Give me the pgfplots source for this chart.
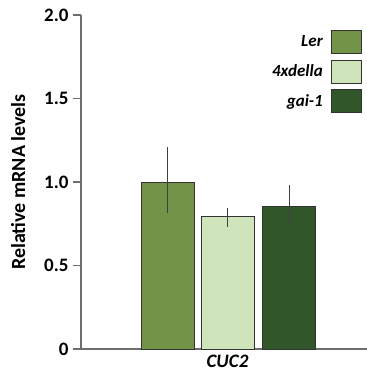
\documentclass[border=0pt]{standalone}
\usepackage{pgfplots}
\pgfplotsset{compat=1.18}
\usepackage{fontspec}
\setmainfont{Carlito}
\definecolor{lerGreen}{RGB}{115,148,72}
\definecolor{dellaGreen}{RGB}{208,228,188}
\definecolor{gaiGreen}{RGB}{48,86,42}
\definecolor{axisGray}{RGB}{110,110,110}
\newcommand{\lbl}[1]{\fontsize{#1}{1.2\dimexpr#1\relax}\selectfont\bfseries}
\begin{document}
\begin{tikzpicture}
\useasboundingbox (-81bp,-22bp) rectangle (286bp,349bp);
\begin{axis}[
  at={(0,0)}, anchor=south west,
  scale only axis, width=286bp, height=334bp,
  xmin=0, xmax=286, ymin=0, ymax=2,
  axis x line=bottom, axis y line=left,
  axis line style={-, draw=axisGray, line width=1.4bp},
  ytick={0,0.5,1,1.5,2},
  yticklabels={0,0.5,1.0,1.5,2.0},
  ytick style={draw=axisGray, line width=1.4bp},
  tick align=outside, major tick length=8bp,
  yticklabel style={font=\lbl{19bp}, xshift=-1bp},
  xtick={146.5}, xticklabels={\textit{CUC2}},
  xtick style={draw=none},
  xticklabel style={font=\lbl{19bp}, inner sep=0pt, text depth=0pt, yshift=2bp},
  ylabel={Relative mRNA levels},
  ylabel style={at={(axis description cs:-0.220,0.5)}, anchor=center, font=\lbl{20bp}},
  ybar, bar width=53bp, bar shift=0pt,
  clip=false,
  legend plot pos=right,
  legend cell align=right,
  legend style={draw=none, fill=none, at={(axis description cs:0.982,0.955)}, anchor=north east,
    font=\lbl{17bp}\itshape, row sep=5.5bp, column sep=8bp, inner sep=0pt,
    nodes={inner sep=0pt, outer sep=0pt}},
  legend image code/.code={\draw[#1, line width=0.9bp] (0bp,-11.5bp) rectangle (30bp,11.5bp);},
  error bars/y dir=both, error bars/y explicit,
  error bars/error mark=none,
  error bars/error bar style={draw=black!75, line width=1bp},
]
\addplot[fill=lerGreen, draw=black!80, line width=0.9bp]
  coordinates {(86.5,1.00) += (0,0.21) -= (0,0.185)};
\addlegendentry{Ler}
\addplot[fill=dellaGreen, draw=black!80, line width=0.9bp]
  coordinates {(146.5,0.794) += (0,0.05) -= (0,0.065)};
\addlegendentry{4xdella}
\addplot[fill=gaiGreen, draw=black!80, line width=0.9bp]
  coordinates {(208,0.854) += (0,0.126) -= (0,0.104)};
\addlegendentry{gai-1}
\end{axis}
\end{tikzpicture}
\end{document}
